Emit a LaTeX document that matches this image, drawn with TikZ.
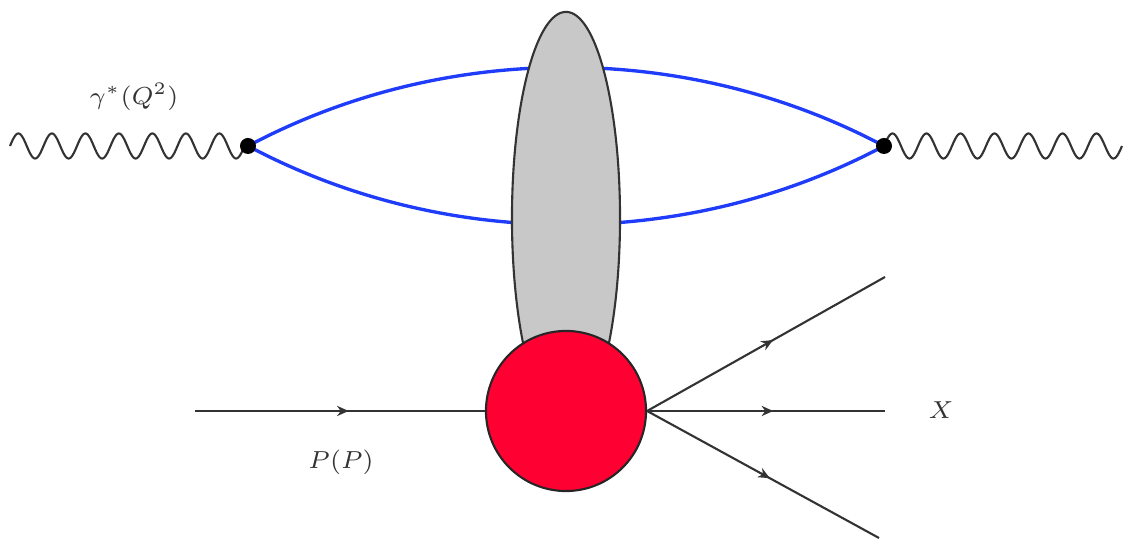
\documentclass[tikz,border=0pt]{standalone}
\usetikzlibrary{shapes.geometric,decorations.markings,arrows.meta}
\definecolor{quarkblue}{RGB}{30,60,250}
\definecolor{blobgray}{RGB}{200,200,200}
\definecolor{hadred}{RGB}{255,0,50}
\tikzset{
  photon/.style={line width=0.6pt, black!80},
  quark/.style={line width=0.95pt, quarkblue},
  vdot/.style={circle, fill=black, inner sep=0pt, minimum size=0.16cm},
  fermion/.style={line width=0.6pt, black!80, postaction={decorate},
    decoration={markings, mark=at position 0.53 with {\arrow{Stealth[length=3.3pt,width=2.9pt]}}}},
  lbl/.style={font=\fontsize{6.6}{8}\selectfont, text=black!80}
}
\begin{document}
\begin{tikzpicture}[x=0.01cm,y=-0.01cm]
\useasboundingbox (0,0) rectangle (1126,540);
\coordinate (pl) at (10,146);
\coordinate (pr) at (1122,146);
\coordinate (v1) at (248,146);
\coordinate (v2) at (884,146);
% photons
\draw[photon, shift={(pl)}] plot[domain=0:238, samples=400, smooth] (\x, {-12.5*sin((\x/33.5)*360)});
\draw[photon, shift={(v2)}] plot[domain=0:238, samples=400, smooth] (\x, {-12.5*sin((\x/34)*360)});
% quark loop
\draw[quark] (v1) to[bend left=28, looseness=0.9] (v2);
\draw[quark] (v1) to[bend right=28, looseness=0.9] (v2);
% gluon blob
\node[ellipse, draw=black!80, line width=0.6pt, fill=blobgray, inner sep=0pt,
      minimum width=1.08cm, minimum height=4.12cm] (blob) at (566,218) {};
% hadron
\node[circle, draw=black!85, line width=0.6pt, fill=hadred, inner sep=0pt,
      minimum size=1.6cm] (had) at (566,411) {};
\node[vdot] (d1) at (v1) {};
\node[vdot] (d2) at (v2) {};
% external lines
\coordinate (pin) at (195,411);
\coordinate (o1) at (885,277);
\coordinate (o2) at (885,411);
\coordinate (o3) at (879,538);
\draw[fermion] (pin) -- (had.west);
\draw[fermion] (had.east) -- (o1);
\draw[fermion] (had.east) -- (o2);
\draw[fermion] (had.east) -- (o3);
% labels
\node[lbl] (lg) at (134,97) {$\gamma^{*}(Q^{2})$};
\node[lbl] (lp) at (341,462) {$P(P)$};
\node[lbl] (lx) at (941,410) {$X$};
\end{tikzpicture}
\end{document}
